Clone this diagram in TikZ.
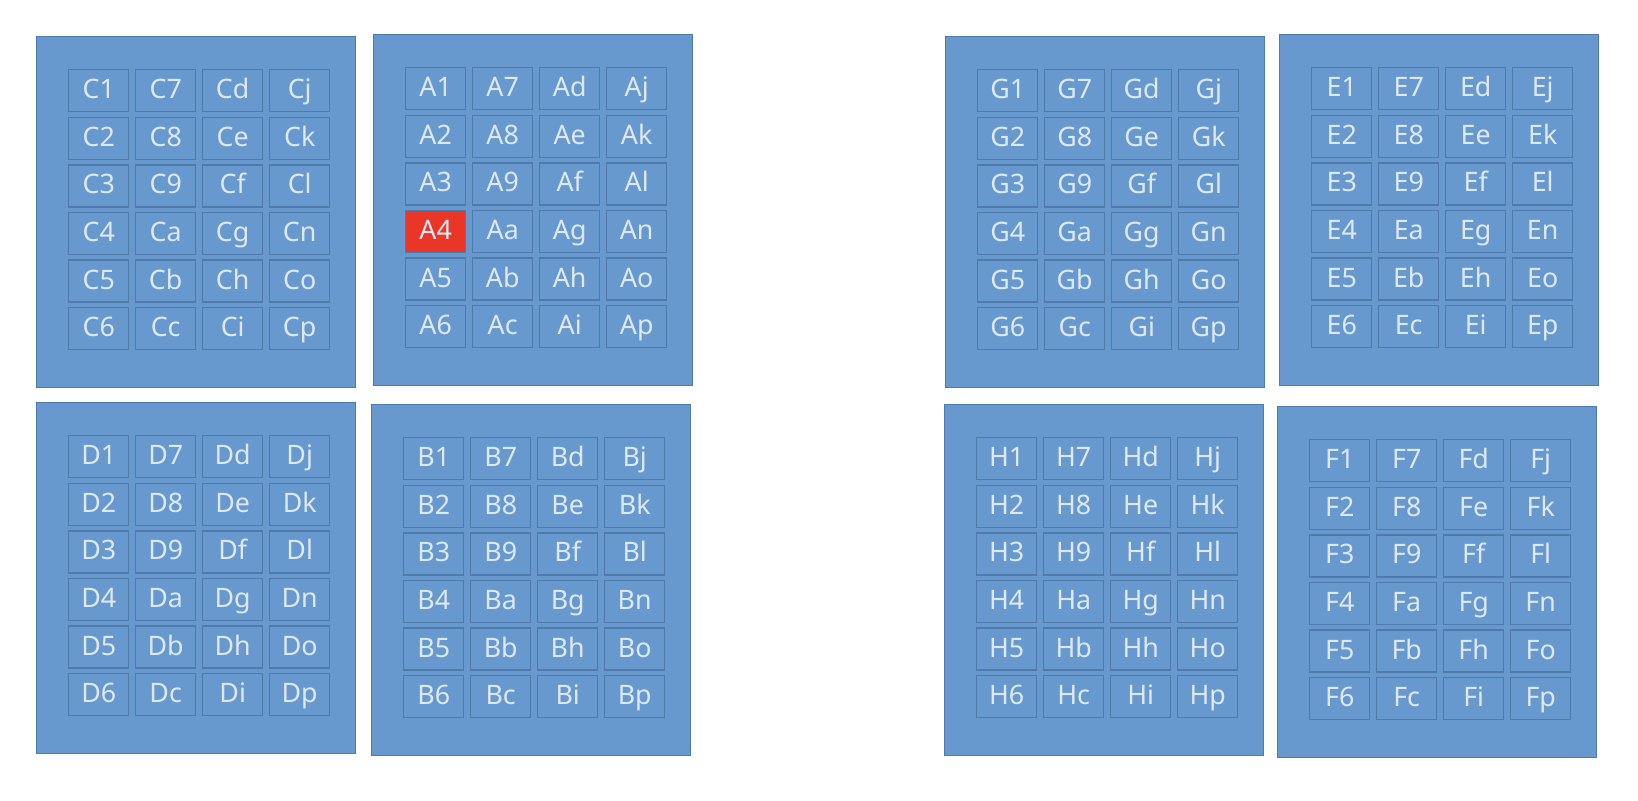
\documentclass[tikz,border=0pt]{standalone}
\usepackage{fontspec}
\setmainfont{Noto Sans}
\usepackage{xcolor}
\usepackage{tikz}
\usetikzlibrary{positioning}
\definecolor{panelblue}{RGB}{104,153,206}
\definecolor{paneledge}{RGB}{78,122,178}
\definecolor{celledge}{RGB}{80,121,172}
\definecolor{celltext}{RGB}{222,232,244}
\definecolor{hotred}{RGB}{233,54,38}

\begin{document}
\begin{tikzpicture}[
    x=0.5pt, y=-0.5pt,
    panel/.style={rectangle, draw=paneledge, fill=panelblue, line width=0.6pt, anchor=north west, inner sep=0pt, minimum width=159.5pt, minimum height=175.5pt},
    cell/.style={rectangle, draw=celledge, line width=0.7pt, anchor=north west, minimum width=30pt, minimum height=21pt, inner sep=0pt, text height=9.6pt, text depth=1.6pt, font=\fontsize{13.4}{15}\selectfont, text=celltext},
    cell-A4/.style={fill=hotred}
]
\useasboundingbox (0,0) rectangle (1638,800);

% eight panels, each a 4x6 grid of cells
\foreach \p/\px/\py in {C/36/36, A/373/34, D/36/402, B/371/404, G/945/36, E/1279/34, H/944/404, F/1277/406} {
  \node[panel] (panel\p) at (\px,\py) {};
  \foreach \lab [count=\i from 0] in {1,2,3,4,5,6,7,8,9,a,b,c,d,e,f,g,h,i,j,k,l,n,o,p} {
    \pgfmathtruncatemacro{\col}{\i/6}
    \pgfmathtruncatemacro{\row}{mod(\i,6)}
    \node[cell, cell-\p\lab/.try] (\p\lab) at (\px+32+67*\col, \py+33+47.6*\row) {\p\lab};
  }
}
\end{tikzpicture}
\end{document}
